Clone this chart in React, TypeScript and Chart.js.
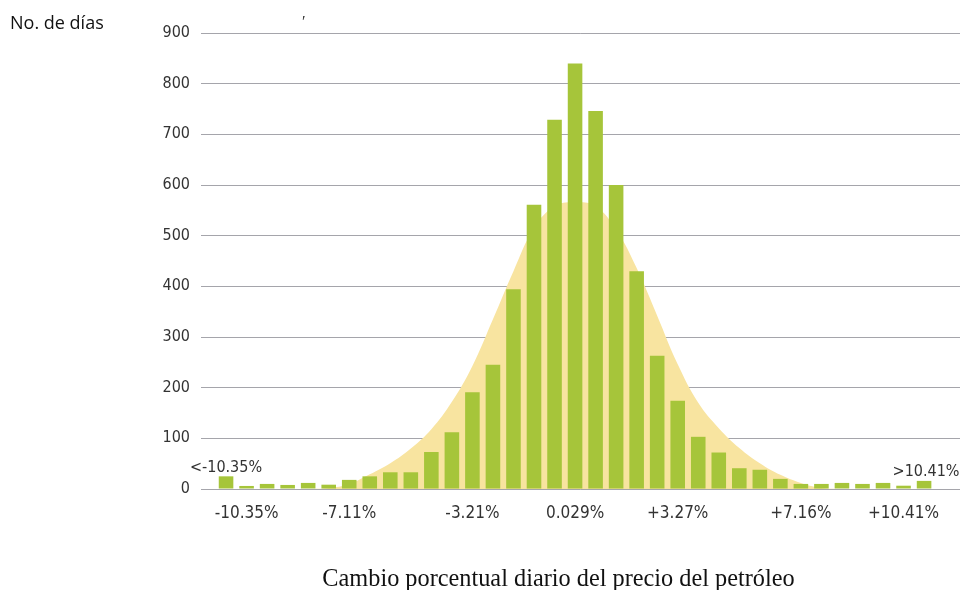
import React, { useEffect, useRef } from 'react';
import { Chart, registerables } from 'chart.js';

Chart.register(...registerables);

// Histogram of daily percentage changes in oil price (number of days per bin)
const barValues = [25, 6, 10, 8, 12, 8.5, 18, 25, 33, 33, 73, 112, 191, 245, 394, 561, 729, 840, 746, 600, 430, 263, 174, 103, 72, 41, 38, 20, 10, 10, 12, 10, 12, 6.5, 16];
// Fitted normal curve read at each bin centre
const curveValues = [0, 0, 0, 0, 0, 2, 10, 29, 51, 80, 118, 172, 243, 335, 430, 515, 558, 566, 558, 512, 436, 342, 246, 170, 120, 81, 51, 28, 12, 2, 0, 0, 0, 0, 0];
const tickPositions = [1, 6, 12, 17, 22, 28, 33];
const tickLabels = ['-10.35%', '-7.11%', '-3.21%', '0.029%', '+3.27%', '+7.16%', '+10.41%'];
const endLabels = ['<-10.35%', '>10.41%'];
const yAxisTitle = 'No. de días';
const xAxisTitle = 'Cambio porcentual diario del precio del petróleo';

const TEXT = '#333333';
const NARROW = '"DejaVu Sans Condensed", "Liberation Sans Narrow", sans-serif';

const endLabelPlugin = {
  id: 'endLabels',
  afterDatasetsDraw(chart: any) {
    const meta = chart.getDatasetMeta(1);
    const first = meta.data[0];
    const last = meta.data[meta.data.length - 1];
    const ctx = chart.ctx;
    ctx.save();
    ctx.font = `16px ${NARROW}`;
    ctx.fillStyle = TEXT;
    ctx.textAlign = 'center';
    ctx.textBaseline = 'alphabetic';
    ctx.fillText(endLabels[0], first.x, first.y - 4);
    ctx.fillText(endLabels[1], last.x + 2, last.y - 5);
    ctx.restore();
  },
};

export default function App() {
  const ref = useRef<HTMLCanvasElement | null>(null);

  useEffect(() => {
    if (!ref.current) return;
    const chart = new Chart(ref.current, {
      type: 'bar',
      data: {
        datasets: [
          {
            type: 'line',
            data: curveValues.map((v, i) => ({ x: i, y: v })),
            borderWidth: 0,
            borderColor: 'rgba(0,0,0,0)',
            backgroundColor: '#f8e4a0',
            fill: 'origin',
            pointRadius: 0,
            tension: 0.4,
            order: 2,
          } as any,
          {
            type: 'bar',
            data: barValues.map((v, i) => ({ x: i, y: v })),
            backgroundColor: '#a6c53a',
            borderWidth: 0,
            barPercentage: 0.71,
            categoryPercentage: 1,
            order: 1,
          } as any,
        ],
      },
      options: {
        animation: false,
        responsive: false,
        layout: { padding: { top: 33, right: 3, left: 0, bottom: 0 } },
        plugins: { legend: { display: false }, tooltip: { enabled: false } },
        scales: {
          x: {
            type: 'linear',
            min: -1.22,
            max: 35.75,
            offset: false,
            grid: { display: false },
            border: { display: false },
            afterBuildTicks: (scale: any) => {
              scale.ticks = tickPositions.map((v) => ({ value: v }));
            },
            afterFit: (scale: any) => {
              scale.height = 101;
            },
            ticks: {
              autoSkip: false,
              maxRotation: 0,
              padding: 6,
              color: TEXT,
              font: { family: NARROW, size: 17 },
              callback: (v: any) => {
                const k = tickPositions.indexOf(Number(v));
                return k >= 0 ? tickLabels[k] : '';
              },
            },
          },
          y: {
            min: 0,
            max: 900,
            z: 1,
            grid: { color: 'rgba(105,105,115,0.6)', lineWidth: 1, drawTicks: false },
            border: { display: false },
            afterFit: (scale: any) => {
              scale.width = 201;
            },
            ticks: {
              stepSize: 100,
              padding: 11,
              color: TEXT,
              font: { family: NARROW, size: 16 },
            },
          },
        },
      },
      plugins: [endLabelPlugin],
    });
    return () => chart.destroy();
  }, []);

  return (
    <div style={{ position: 'absolute', left: 0, top: 0, width: 963, height: 590, background: '#fff' }}>
      <canvas ref={ref} width={963} height={590} style={{ display: 'block' }} />
      <div
        style={{
          position: 'absolute',
          left: 10,
          top: 12.5,
          fontFamily: '"Open Sans", sans-serif',
          fontSize: 18,
          lineHeight: '18px',
          color: '#111',
          whiteSpace: 'nowrap',
        }}
      >
        {yAxisTitle}
      </div>
      <div
        style={{
          position: 'absolute',
          left: 302,
          top: 14,
          fontFamily: '"Liberation Serif", serif',
          fontSize: 16,
          lineHeight: '16px',
          color: '#333',
        }}
      >
        ′
      </div>
      <div
        style={{
          position: 'absolute',
          left: 0,
          width: 1117,
          top: 565.6,
          textAlign: 'center',
          fontFamily: '"Liberation Serif", serif',
          fontSize: 24.3,
          lineHeight: '24px',
          color: '#111',
          whiteSpace: 'nowrap',
        }}
      >
        {xAxisTitle}
      </div>
    </div>
  );
}
